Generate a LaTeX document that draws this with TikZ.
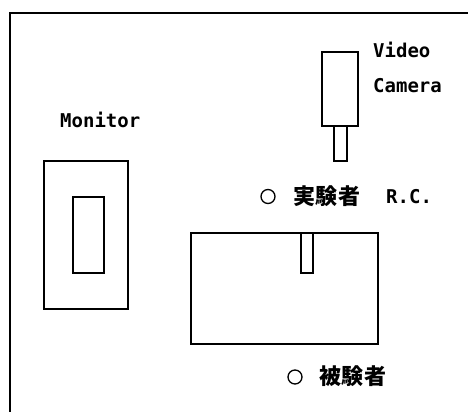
\documentclass[tikz,border=0pt]{standalone}
\usepackage{fontspec}
\newfontfamily\latfont{DejaVu Sans Mono}
\newfontfamily\cjk{Noto Sans CJK JP}
\tikzset{
  plan/.style={line width=1.2pt},
  lab/.style={inner sep=0pt, font=\latfont\fontsize{19}{22}\selectfont\bfseries},
  jlab/.style={inner sep=0pt, font=\cjk\fontsize{22}{24}\selectfont\bfseries},
  ringmark/.style={circle, draw, line width=1.3pt, minimum size=14pt, inner sep=0pt}
}
\begin{document}
\begin{tikzpicture}[x=1pt,y=-1pt]
\useasboundingbox (0,0) rectangle (468,412);
% frame
\coordinate (ftr) at (468,13);
\coordinate (ftl) at (10,13);
\coordinate (fbl) at (10,412);
\draw[plan] (ftr) -- (ftl) -- (fbl);
% video camera
\draw[plan] (322,52) rectangle (358,126);
\draw[plan] (334,126) rectangle (347,161);
\node[lab, anchor=base west] (video) at (373,57) {Video};
\node[lab, anchor=base west] (camera) at (373,92) {Camera};
% monitor
\node[lab, anchor=base west] (monitor) at (60,127) {Monitor};
\draw[plan] (44,161) rectangle (128,309);
\draw[plan] (73,197) rectangle (104,273);
% experimenter
\node[ringmark] (c1) at (268,196.5) {};
\node[jlab, anchor=west] (exp) at (293,196) {実\hspace{0.5pt}験\hspace{0.5pt}者};
\node[lab, anchor=base west] (rc) at (386,203) {R.C.};
% table
\draw[plan] (191,233) rectangle (378,344);
\draw[plan] (301,233) rectangle (313,273);
% subject
\node[ringmark] (c2) at (295,377) {};
\node[jlab, anchor=west] (subj) at (319,376) {被\hspace{0.5pt}験\hspace{0.5pt}者};
\end{tikzpicture}
\end{document}
